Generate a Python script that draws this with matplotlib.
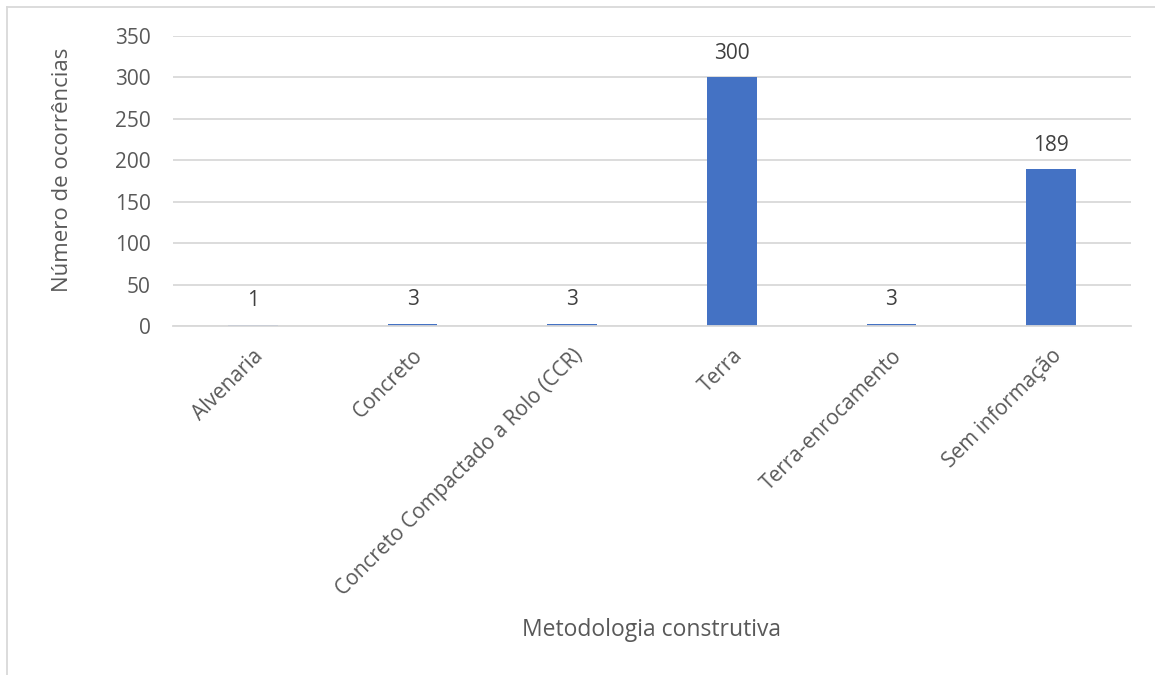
import matplotlib.pyplot as plt
from matplotlib.lines import Line2D

categorias = ["Alvenaria", "Concreto", "Concreto Compactado a Rolo (CCR)",
              "Terra", "Terra-enrocamento", "Sem informação"]
ocorrencias = [1, 3, 3, 300, 3, 189]
yticks = [0, 50, 100, 150, 200, 250, 300, 350]

cinza = "#595959"
plt.rcParams["font.family"] = ["Open Sans", "DejaVu Sans"]

fig = plt.figure(figsize=(11.55, 6.75), dpi=100)
ax = fig.add_axes([173 / 1155, 1 - 326 / 675, (1131 - 173) / 1155, 290 / 675])

x = range(len(categorias))
bars = ax.bar(x, ocorrencias, width=0.31, color="#4472C4", zorder=3)
ax.bar_label(bars, labels=[str(v) for v in ocorrencias], padding=10,
             fontsize=15, color="#404040")

ax.set_xlim(-0.5, len(categorias) - 0.5)
ax.set_ylim(0, 350)
ax.set_yticks(yticks)
ax.set_yticklabels([str(t) for t in yticks], fontsize=15, color=cinza)
ax.set_xticks(list(x))
ax.set_xticklabels(categorias, rotation=45, ha="right", rotation_mode="anchor",
                   fontsize=15, color=cinza)
ax.tick_params(axis="x", length=0, pad=14)
ax.tick_params(axis="y", length=0, pad=16)

ax.grid(axis="y", color="#D9D9D9", linewidth=1.3, zorder=0)
for s in ["top", "right", "left"]:
    ax.spines[s].set_visible(False)
ax.spines["bottom"].set_color("#D9D9D9")
ax.spines["bottom"].set_linewidth(1.3)
ax.spines["bottom"].set_zorder(4)

fig.text(62 / 1155, 1 - 170 / 675, "Número de ocorrências", fontsize=16,
         color=cinza, ha="center", va="center", rotation=90)
fig.text(652 / 1155, 1 - 630 / 675, "Metodologia construtiva", fontsize=16.5,
         color=cinza, ha="center", va="center")

# moldura parcial da área do gráfico
fig.add_artist(Line2D([7 / 1155, 1], [1 - 7 / 675, 1 - 7 / 675],
                      color="#D9D9D9", linewidth=1.3, transform=fig.transFigure))
fig.add_artist(Line2D([7 / 1155, 7 / 1155], [0, 1 - 7 / 675],
                      color="#D9D9D9", linewidth=1.3, transform=fig.transFigure))

fig.savefig("out.png", dpi=100)
